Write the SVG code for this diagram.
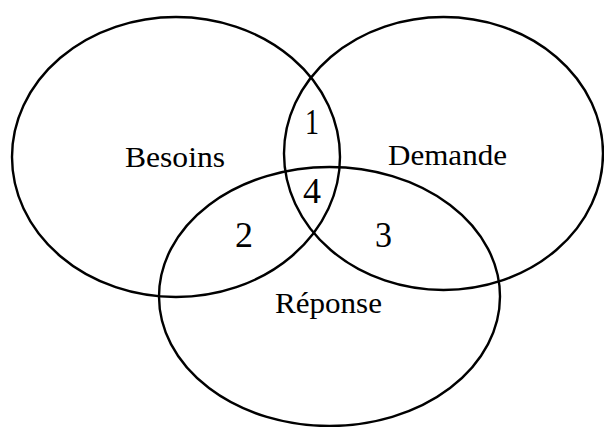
<svg xmlns="http://www.w3.org/2000/svg" width="604" height="427" viewBox="0 0 604 427">
  <style>
    .set { fill: none; stroke: #000; stroke-width: 2.4; }
    .label { font-family: "Liberation Serif", "Times New Roman", serif; font-size: 30px; fill: #000; text-anchor: middle; }
    .zone { font-family: "Liberation Serif", "Times New Roman", serif; font-size: 36px; fill: #000; text-anchor: middle; }
  </style>
  <rect width="604" height="427" fill="#fff"/>

  <!-- three overlapping sets -->
  <g id="besoins">
    <ellipse class="set" cx="176" cy="157" rx="164" ry="140"/>
    <text class="label" x="175" y="167" textLength="100" lengthAdjust="spacingAndGlyphs">Besoins</text>
  </g>
  <g id="demande">
    <ellipse class="set" cx="443.5" cy="153.5" rx="159.5" ry="136.5"/>
    <text class="label" x="447.5" y="165" textLength="119" lengthAdjust="spacingAndGlyphs">Demande</text>
  </g>
  <g id="reponse">
    <ellipse class="set" cx="329.5" cy="296.5" rx="170.5" ry="129.5"/>
    <text class="label" x="328.5" y="313" textLength="107" lengthAdjust="spacingAndGlyphs">Réponse</text>
  </g>

  <!-- intersection zones -->
  <g id="zones">
    <text class="zone" x="312" y="134" textLength="14" lengthAdjust="spacingAndGlyphs">1</text>
    <text class="zone" x="312" y="203" textLength="18" lengthAdjust="spacingAndGlyphs">4</text>
    <text class="zone" x="244" y="247" textLength="18" lengthAdjust="spacingAndGlyphs">2</text>
    <text class="zone" x="383.5" y="247" textLength="17" lengthAdjust="spacingAndGlyphs">3</text>
  </g>
</svg>
